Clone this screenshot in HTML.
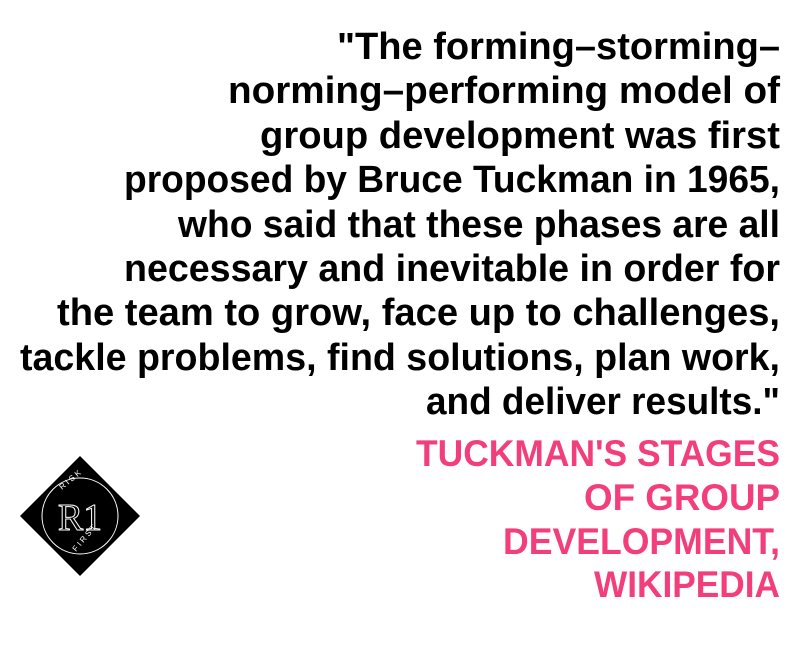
<!DOCTYPE html>
<html><head><meta charset="utf-8"><style>html,body{margin:0;padding:0;background:#fff}svg{display:block}</style></head>
<body>
<svg width="800" height="648" viewBox="0 0 800 648">
<rect width="800" height="648" fill="#fff"/>
<g font-family="Liberation Sans, sans-serif" font-weight="bold" font-size="38" fill="#000">
<text x="337" y="59" textLength="443" lengthAdjust="spacingAndGlyphs">"The forming–storming–</text>
<text x="228" y="103" textLength="552" lengthAdjust="spacingAndGlyphs">norming–performing model of</text>
<text x="260" y="148" textLength="520" lengthAdjust="spacingAndGlyphs">group development was first</text>
<text x="124" y="192" textLength="656" lengthAdjust="spacingAndGlyphs">proposed by Bruce Tuckman in 1965,</text>
<text x="178" y="237" textLength="602" lengthAdjust="spacingAndGlyphs">who said that these phases are all</text>
<text x="124" y="281" textLength="656" lengthAdjust="spacingAndGlyphs">necessary and inevitable in order for</text>
<text x="57" y="325" textLength="723" lengthAdjust="spacingAndGlyphs">the team to grow, face up to challenges,</text>
<text x="20" y="370" textLength="760" lengthAdjust="spacingAndGlyphs">tackle problems, find solutions, plan work,</text>
<text x="426" y="414" textLength="354" lengthAdjust="spacingAndGlyphs">and deliver results."</text>
</g>
<g font-family="Liberation Sans, sans-serif" font-weight="bold" font-size="37" fill="#f23f7b">
<text x="416" y="466" textLength="364" lengthAdjust="spacingAndGlyphs">TUCKMAN'S STAGES</text>
<text x="584" y="510" textLength="196" lengthAdjust="spacingAndGlyphs">OF GROUP</text>
<text x="503" y="554" textLength="277" lengthAdjust="spacingAndGlyphs">DEVELOPMENT,</text>
<text x="594" y="597" textLength="186" lengthAdjust="spacingAndGlyphs">WIKIPEDIA</text>
</g>
<g>
<polygon points="80,456 140,516 80,576 20,516" fill="#000"/>
<circle cx="80" cy="516" r="38" fill="none" stroke="#fff" stroke-width="1"/>
<text x="80" y="530" text-anchor="middle" font-family="Liberation Serif, serif" font-size="38" fill="none" stroke="#fff" stroke-width="1">R1</text>
<text x="62" y="490" font-family="Liberation Sans, sans-serif" font-size="8" fill="#fff" transform="rotate(-40 62 490)">R I S K</text>
<text x="76" y="552" font-family="Liberation Sans, sans-serif" font-size="8" fill="#fff" transform="rotate(-50 76 552)">F I R S T</text>
</g>
</svg>
</body></html>
